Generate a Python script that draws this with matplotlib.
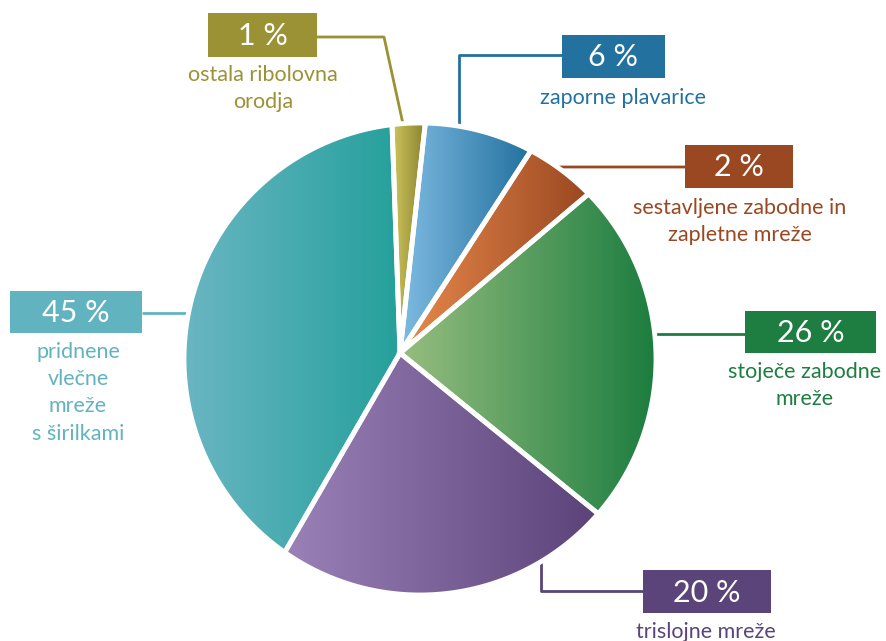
import numpy as np
import matplotlib.pyplot as plt
from matplotlib.patches import Polygon, Rectangle
from matplotlib.colors import to_rgb

# category order, clockwise from the top
categories = ["ostala ribolovna\norodja", "zaporne plavarice",
              "sestavljene zabodne in\nzapletne mreže", "stoječe zabodne\nmreže",
              "trislojne mreže", "pridnene\nvlečne\nmreže\ns širilkami"]
pct_labels = [1, 6, 2, 26, 20, 45]
# slice sizes as drawn in the picture (share of the circle, %)
slice_sizes = [2.3, 7.4, 4.7, 22.0, 22.5, 41.1]

light = ["#cfc55c", "#7fbbe2", "#e98a4c", "#97be80", "#9a82b8", "#6ab6c3"]
dark = ["#878230", "#22719f", "#9a4822", "#1b7d3f", "#5b4379", "#25a09b"]
label_col = ["#9b9135", "#22719f", "#9a4822", "#1e7d40", "#5b4479", "#62b3c0"]

fig = plt.figure(figsize=(8.87, 6.41), dpi=100)
ax = fig.add_axes([0, 0, 1, 1])
W, H = 887, 641

apex = np.array([400.0, 353.0])
centre = np.array([420.0, 359.0])
R = 236.0
start = 92.0


def rim(theta):
    d = np.array([np.cos(np.radians(theta)), -np.sin(np.radians(theta))])
    w = apex - centre
    b = d @ w
    t = -b + np.sqrt(b * b - w @ w + R * R)
    return apex + t * d


bounds = start - np.concatenate([[0], np.cumsum(slice_sizes)]) * 3.6
for i in range(len(slice_sizes)):
    th = np.linspace(bounds[i], bounds[i + 1], 120)
    pts = np.vstack([apex] + [rim(t) for t in th])
    x0, x1 = pts[:, 0].min(), pts[:, 0].max()
    y0, y1 = pts[:, 1].min(), pts[:, 1].max()
    c0, c1 = np.array(to_rgb(light[i])), np.array(to_rgb(dark[i]))
    f = np.linspace(0, 1, 256)[:, None]
    grad = (c0 + (c1 - c0) * f)[None, :, :]
    poly = Polygon(pts, closed=True, facecolor="none", edgecolor="white",
                   lw=3.5, zorder=3)
    ax.add_patch(poly)
    im = ax.imshow(grad, extent=[x0, x1, y1, y0], aspect="auto", zorder=2)
    im.set_clip_path(poly)

# label boxes: (x, y, w, h), label text position, leader line
boxes = [(208, 13, 109, 44), (562, 35, 103, 43), (685, 145, 108, 43),
         (745, 311, 131, 42), (643, 570, 128, 43), (10, 291, 132, 42)]
text_x = [263, 623, 740, 805, 706, 78]
text_y = [75, 98, 208, 372, 632, 352]
leaders = [([317, 384, 403], [37, 37, 124]),
           ([562, 459, 459], [55, 55, 128]),
           ([685, 557, 548], [167, 167, 174]),
           ([745, 655], [334, 334]),
           ([643, 541, 541], [591, 591, 558]),
           ([142, 190], [313, 313])]

for i, (bx, by, bw, bh) in enumerate(boxes):
    ax.add_patch(Rectangle((bx, by), bw, bh, facecolor=label_col[i],
                           edgecolor="none", zorder=4))
    ax.text(bx + bw / 2, by + bh / 2 + 1, f"{pct_labels[i]} %", color="white",
            fontsize=22, ha="center", va="center", family="Lato", zorder=5)
    ax.text(text_x[i], text_y[i] - 10, categories[i], color=label_col[i],
            fontsize=15.5, ha="center", va="top", family="Lato",
            linespacing=1.45, zorder=5)
    lx, ly = leaders[i]
    ax.plot(lx, ly, color=label_col[i], lw=2, zorder=1,
            solid_capstyle="butt")

ax.set_xlim(0, W)
ax.set_ylim(H, 0)
ax.axis("off")
fig.savefig("out.png", dpi=100, facecolor="white")
